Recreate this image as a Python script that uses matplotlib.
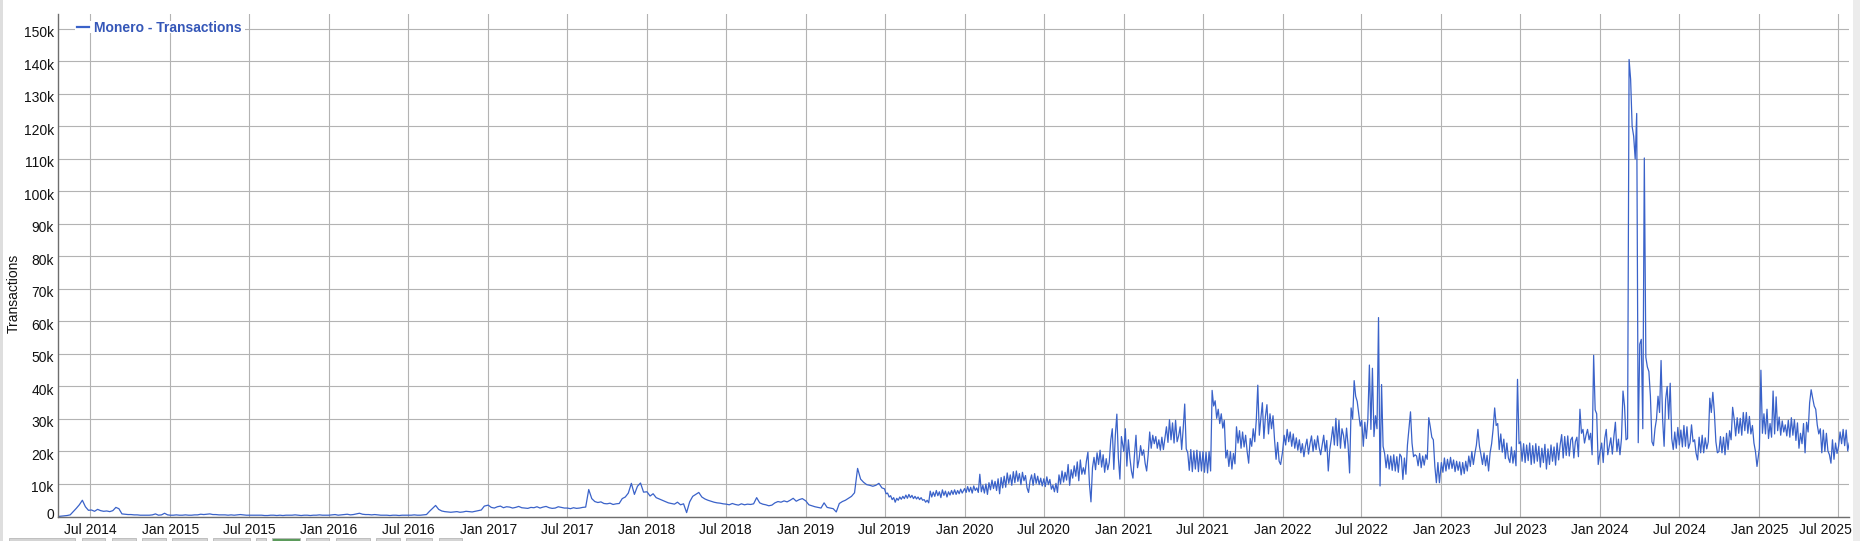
import numpy as np
import pandas as pd
import matplotlib
matplotlib.use('Agg')
import matplotlib.pyplot as plt
import matplotlib.dates as mdates
from matplotlib.patches import Rectangle
from matplotlib.lines import Line2D
from matplotlib.transforms import ScaledTranslation

# Monero daily transactions, in thousands
# 2014-2019 H1: one value per week, 2019 H2 onwards: one value per half week

# weekly from 2014-04-18
tx_2014 = [0, 0.1, 0.2, 0.3, 0.5, 1.5, 2.5, 3.6, 5.0, 3.0, 1.9,
           2.0, 1.6, 2.2, 1.8, 1.6, 1.7, 1.5, 1.8, 2.8, 2.4, 0.8, 0.7, 0.6,
           0.6, 0.5, 0.5, 0.4, 0.4, 0.4, 0.4, 0.5, 0.8, 0.4, 0.5, 1.0, 0.5]
# weekly from Jan 1
tx_2015 = [0.4, 0.4, 0.5, 0.4, 0.4, 0.5, 0.4, 0.4, 0.5, 0.5, 0.7, 0.6, 0.7,
           0.8, 0.6, 0.6, 0.5, 0.5, 0.5, 0.4, 0.5, 0.4, 0.5, 0.6, 0.5, 0.4,
           0.4, 0.4, 0.4, 0.4, 0.4, 0.3, 0.3, 0.4, 0.4, 0.3, 0.4, 0.3, 0.4,
           0.4, 0.4, 0.5, 0.4, 0.3, 0.4, 0.4, 0.3, 0.4, 0.4, 0.5, 0.4, 0.4]
tx_2016 = [0.4, 0.5, 0.6, 0.4, 0.5, 0.6, 0.7, 0.5, 0.6, 0.8, 1.0, 0.7, 0.6,
           0.6, 0.5, 0.6, 0.5, 0.4, 0.4, 0.4, 0.3, 0.4, 0.4, 0.3, 0.4, 0.4,
           0.4, 0.4, 0.5, 0.4, 0.4, 0.5, 0.6, 1.6, 2.5, 3.4, 2.2, 1.7, 1.5,
           1.4, 1.3, 1.4, 1.5, 1.3, 1.4, 1.6, 1.5, 1.4, 1.6, 1.8, 2.0, 3.2]
tx_2017 = [3.5, 2.8, 2.6, 3.0, 3.2, 2.7, 3.0, 2.9, 2.6, 2.8, 3.1, 2.7, 2.6,
           2.5, 2.8, 2.7, 3.0, 2.6, 2.9, 3.1, 2.7, 2.5, 2.6, 3.0, 2.8, 2.6,
           2.6, 2.4, 2.7, 2.5, 2.6, 2.8, 2.9, 8.3, 5.5, 4.6, 4.3, 4.5, 4.0,
           3.9, 4.1, 3.7, 3.9, 4.0, 5.5, 6.0, 7.2, 10.2, 6.8, 9.3, 10.3, 7.5]
tx_2018 = [7.6, 6.3, 7.0, 5.8, 5.4, 5.0, 4.6, 4.2, 4.0, 3.8, 4.4, 3.6, 3.9,
           1.2, 4.5, 6.2, 6.8, 7.4, 6.0, 5.4, 5.0, 4.7, 4.4, 4.2, 4.1, 3.9,
           3.8, 3.6, 4.0, 3.7, 3.5, 3.9, 3.6, 3.8, 3.7, 3.9, 5.8, 4.2, 3.8,
           3.6, 3.3, 3.5, 4.2, 4.6, 4.4, 4.8, 4.5, 5.0, 5.6, 4.7, 5.2, 5.5]
tx_2019_h1 = [4.8, 3.6, 3.3, 3.0, 2.8, 2.6, 4.2, 2.8, 2.6, 2.4, 1.4, 4.0, 4.6,
              5.0, 5.6, 6.2, 7.3, 14.8, 11.5, 10.5, 9.8, 9.6, 9.3, 9.6, 10.2, 8.8]
# half-weekly from Jul 1 2019
tx_2019_h2 = [8.5, 7.0, 7.2, 6.0, 6.4, 5.2, 5.8, 4.4, 5.6, 5.0, 6.0, 5.3, 6.2,
              5.5, 6.6, 5.6, 6.8, 5.8, 6.5, 5.5, 6.2, 5.4, 6.0, 5.2, 5.8, 5.0,
              5.2, 4.4, 5.0, 4.2, 7.8, 6.0, 7.5, 6.2, 8.0, 6.4, 7.6, 5.8, 8.2,
              6.5, 7.8, 6.0, 7.6, 6.6, 8.0, 6.8, 8.2, 6.8, 8.0, 7.0, 8.4, 7.2]
# half-weekly from Jan 1
tx_2020 = [8.6, 7.4, 9.2, 7.6, 9.0, 7.2, 9.4, 8.0, 8.8, 7.4, 13.0, 7.6, 9.6,
           7.2, 10.0, 6.8, 10.4, 8.2, 11.2, 8.6, 10.8, 8.0, 11.6, 7.0, 12.0, 8.8,
           12.4, 9.0, 13.4, 10.2, 12.8, 9.6, 13.8, 10.4, 14.0, 10.8, 13.2, 9.8, 13.6,
           11.0, 12.6, 8.8, 7.4, 11.0, 12.8, 9.6, 13.2, 10.2, 12.4, 9.8, 11.8, 9.4,
           11.6, 9.2, 12.2, 9.8, 11.4, 8.4, 9.6, 7.6, 10.2, 7.4, 12.8, 10.0, 14.0,
           10.6, 13.6, 11.2, 16.0, 9.6, 14.4, 11.8, 15.6, 12.4, 16.8, 11.0, 17.4, 13.0,
           15.0, 13.0, 17.0, 19.8, 10.0, 4.5, 15.0, 18.2, 14.4, 19.6, 16.0, 20.4, 15.2,
           19.0, 13.6, 17.8, 14.4, 16.6, 23.5, 27.0, 14.5, 25.0, 31.5, 18.0, 11.5, 24.6]
tx_2021 = [20.0, 27.0, 15.5, 23.6, 18.0, 14.0, 11.8, 19.0, 25.0, 15.0, 17.5, 21.8, 18.8,
           20.5, 16.4, 14.0, 19.0, 26.0, 21.0, 25.0, 22.4, 24.6, 21.0, 23.6, 20.4, 24.4,
           20.6, 24.0, 27.6, 22.8, 29.8, 23.6, 28.8, 22.6, 29.6, 23.0, 24.8, 27.6, 20.6,
           27.0, 34.6, 20.8, 19.6, 14.2, 20.6, 13.8, 20.2, 14.6, 20.4, 13.8, 20.0, 14.0,
           20.0, 13.6, 19.8, 13.4, 20.0, 14.0, 38.8, 34.0, 35.6, 30.2, 33.0, 28.6, 31.6,
           27.2, 29.6, 18.0, 20.4, 15.4, 20.0, 14.6, 19.4, 16.2, 27.6, 22.6, 26.4, 21.0,
           26.0, 21.4, 25.0, 20.0, 16.4, 24.0, 21.6, 27.0, 23.0, 29.6, 40.4, 25.0, 30.2,
           35.0, 24.0, 30.8, 34.4, 25.4, 31.6, 27.0, 31.0, 23.6, 17.6, 22.8, 17.0, 16.0]
tx_2022 = [20.0, 25.0, 22.0, 26.8, 23.0, 26.0, 21.6, 25.4, 21.0, 24.2, 20.4, 23.6, 19.6,
           22.4, 18.4, 21.6, 23.8, 19.2, 22.4, 24.8, 20.0, 23.6, 20.6, 24.8, 21.2, 19.0,
           22.0, 25.0, 20.0, 23.4, 14.0, 20.6, 23.8, 27.6, 22.0, 30.2, 21.8, 29.6, 21.0,
           27.0, 25.0, 21.0, 27.2, 22.0, 13.4, 33.4, 30.0, 41.8, 37.0, 35.4, 31.6, 27.8,
           29.6, 21.6, 29.0, 24.0, 30.0, 46.6, 26.8, 45.6, 24.6, 31.0, 27.0, 61.2, 9.4,
           40.6, 21.6, 19.4, 15.0, 19.0, 14.6, 18.6, 14.2, 19.0, 14.0, 18.4, 13.6, 19.2,
           18.4, 11.4, 18.0, 13.0, 22.0, 27.0, 32.2, 22.6, 18.4, 19.0, 18.6, 15.6, 19.4,
           15.0, 18.6, 15.8, 19.0, 17.6, 30.4, 27.6, 24.4, 23.6, 15.4, 10.4, 16.6, 10.4]
tx_2023 = [16.6, 13.6, 18.0, 14.0, 17.6, 14.6, 18.2, 14.8, 17.4, 13.8, 17.0, 14.2, 16.8,
           12.8, 16.6, 13.2, 17.0, 14.0, 18.6, 15.4, 20.0, 16.0, 19.4, 22.0, 26.8, 21.6,
           19.0, 16.0, 19.6, 15.6, 18.8, 14.0, 19.6, 22.4, 27.0, 33.4, 28.0, 28.6, 20.6,
           25.4, 19.8, 23.8, 17.8, 22.6, 18.0, 16.6, 21.4, 16.4, 20.2, 15.6, 42.2, 22.4,
           23.0, 17.0, 22.4, 16.6, 22.0, 17.2, 22.6, 16.0, 21.8, 16.4, 22.4, 17.0, 21.6,
           15.2, 21.0, 16.6, 22.2, 14.6, 20.8, 16.0, 22.0, 17.0, 21.4, 15.8, 22.6, 17.4,
           22.0, 25.2, 18.0, 24.6, 18.8, 24.8, 18.6, 23.6, 24.4, 18.0, 23.0, 24.4, 18.4,
           33.0, 25.6, 26.8, 22.6, 25.0, 26.8, 23.6, 25.6, 19.0, 49.6, 32.8, 31.6, 16.0]
tx_2024 = [20.0, 22.6, 16.6, 24.0, 26.8, 19.0, 21.6, 24.2, 19.2, 24.6, 29.0, 20.0, 23.8,
           19.0, 24.0, 38.6, 34.0, 23.6, 24.0, 140.6, 134.5, 120.0, 117.0, 110.0, 124.0, 22.7,
           53.0, 54.5, 27.0, 110.3, 49.0, 46.0, 44.6, 37.0, 23.0, 21.8, 27.0, 30.0, 37.0,
           32.0, 48.0, 30.0, 21.6, 36.0, 40.0, 30.0, 41.0, 24.0, 20.6, 26.0, 21.0, 27.4,
           22.0, 26.6, 21.4, 28.0, 21.6, 27.6, 21.0, 22.6, 28.2, 23.0, 23.6, 19.4, 17.4,
           24.4, 19.6, 25.0, 19.6, 24.2, 20.8, 23.0, 36.4, 32.0, 38.2, 32.0, 23.0, 19.6,
           20.0, 24.6, 19.6, 24.4, 19.0, 25.6, 20.6, 26.4, 23.6, 33.6, 30.0, 24.8, 30.4,
           25.6, 30.2, 25.0, 32.0, 26.4, 32.0, 25.6, 30.8, 25.4, 28.0, 22.6, 20.0, 15.4]
tx_2025 = [21.0, 45.0, 25.6, 31.6, 25.4, 33.0, 24.0, 28.6, 24.4, 38.6, 25.4, 36.8, 26.4,
           30.6, 25.0, 29.4, 26.0, 28.2, 24.8, 29.6, 24.4, 30.4, 25.0, 29.8, 23.4, 28.8,
           21.0, 25.6, 22.4, 28.6, 19.6, 29.0, 26.0, 35.0, 39.0, 36.4, 34.0, 33.0, 28.2,
           25.4, 27.0, 19.6, 26.6, 20.0, 25.6, 20.2, 19.0, 16.4, 23.6, 17.6, 22.6, 19.4,
           21.6, 26.0, 22.4, 26.8, 21.8, 26.6, 20.2, 22.6]

# (start date, step in days, values)
segments = [
    ('2014-04-18', 7, tx_2014),
    ('2015-01-01', 7, tx_2015),
    ('2016-01-01', 7, tx_2016),
    ('2017-01-01', 7, tx_2017),
    ('2018-01-01', 7, tx_2018),
    ('2019-01-01', 7, tx_2019_h1),
    ('2019-07-01', 3.5, tx_2019_h2),
    ('2020-01-01', 3.5, tx_2020),
    ('2021-01-01', 3.5, tx_2021),
    ('2022-01-01', 3.5, tx_2022),
    ('2023-01-01', 3.5, tx_2023),
    ('2024-01-01', 3.5, tx_2024),
    ('2025-01-01', 3.5, tx_2025),
]

dates = []
values = []
for start, step, vals in segments:
    d = pd.Timestamp(start) + pd.to_timedelta(np.arange(len(vals)) * step, unit='D')
    dates.extend(d)
    values.extend(vals)

plt.rcParams['font.family'] = ['Liberation Sans', 'DejaVu Sans']

W, H = 1860, 541
fig = plt.figure(figsize=(W / 100, H / 100), dpi=100)

# axes box in pixels
left, right, top, bottom = 58, 1849, 14, 516.5
ax = fig.add_axes([left / W, 1 - bottom / H, (right - left) / W, (bottom - top) / H])

line_color = '#3a62c9'
ax.plot(dates, values, color=line_color, lw=0.9)

ax.set_xlim(pd.Timestamp('2014-04-18'), pd.Timestamp('2025-07-26'))
ax.set_ylim(0, 154.6)

yt = np.arange(0, 151, 10)
ax.set_yticks(yt)
ax.set_yticklabels(['0' if v == 0 else f'{v}k' for v in yt])
xt = pd.date_range('2014-07-01', '2025-07-01', freq='6MS')
ax.set_xticks(xt)
ax.set_xticklabels([d.strftime('%b %Y') for d in xt])

ax.tick_params(axis='both', length=0, labelsize=10, colors='#111111')
ax.tick_params(axis='y', pad=3)
ax.tick_params(axis='x', pad=5)

# labels sit a little below their grid line, the 0 a little above the axis
for lab, v in zip(ax.get_yticklabels(), yt):
    dy = 3 if v == 0 else -3
    lab.set_transform(lab.get_transform() + ScaledTranslation(0, dy / 100, fig.dpi_scale_trans))
# last date label is pushed left so it stays inside the picture
last = ax.get_xticklabels()[-1]
last.set_transform(last.get_transform() + ScaledTranslation(-13 / 100, 0, fig.dpi_scale_trans))

ax.grid(True, color='#b3b3b3', lw=0.8)
ax.set_axisbelow(True)
for s in ['top', 'right']:
    ax.spines[s].set_visible(False)
for s in ['left', 'bottom']:
    ax.spines[s].set_color('#6e6e6e')
    ax.spines[s].set_linewidth(1.0)

# y label
fig.text(14 / W, 1 - 293 / H, 'Transactions', rotation=90, ha='center', va='center',
         fontsize=10, color='#111111')

# legend: short line + bold blue text on white
fig.patches.append(Rectangle((75 / W, 1 - 33 / H), (245 - 75) / W, 12 / H,
                             transform=fig.transFigure, facecolor='white',
                             edgecolor='none', zorder=5))
fig.lines.append(Line2D([76.7 / W, 89.3 / W], [1 - 26.7 / H, 1 - 26.7 / H],
                        transform=fig.transFigure, color=line_color, lw=1.6, zorder=6))
fig.text(94.3 / W, 1 - 26.7 / H, 'Monero - Transactions', ha='left', va='center_baseline',
         fontsize=10, fontweight='bold', color='#3557b8', zorder=6)

# page chrome: left border, right scrollbar strip, bottom buttons
fig.patches.append(Rectangle((0, 0), 2.5 / W, 1, transform=fig.transFigure,
                             facecolor='#dedede', edgecolor='none'))
fig.patches.append(Rectangle((1853 / W, 0), 7 / W, 1, transform=fig.transFigure,
                             facecolor='#ececec', edgecolor='none'))
buttons = [(9, 75), (82, 105), (112, 136), (142, 166), (172, 207), (213, 250),
           (256, 266), (272, 300), (306, 329), (336, 370), (376, 400), (406, 432), (439, 462)]
for i, (x0, x1) in enumerate(buttons):
    fc = '#5b9b5b' if i == 7 else '#d4d4d4'
    fig.patches.append(Rectangle((x0 / W, 0), (x1 - x0) / W, 3.5 / H,
                                 transform=fig.transFigure, facecolor=fc,
                                 edgecolor='#b8b8b8', lw=0.6))

fig.savefig('out.png', dpi=100)
